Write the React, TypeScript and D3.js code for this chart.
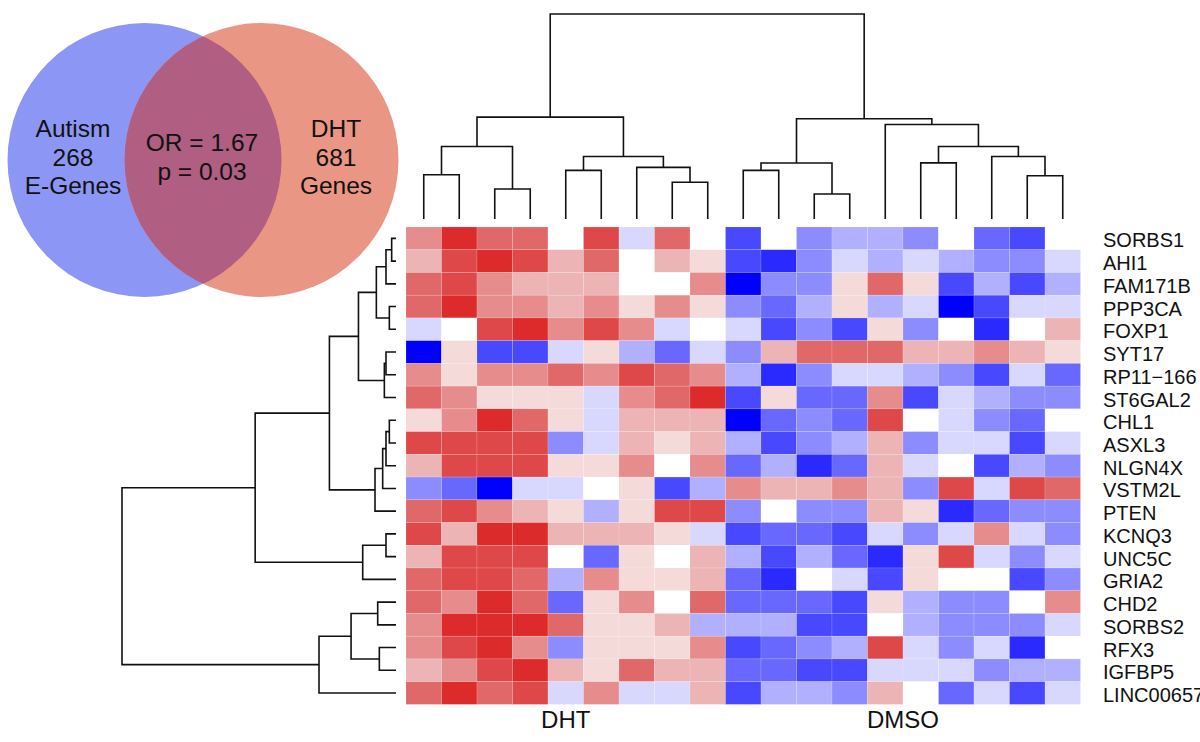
import React from "react";
import * as d3 from "d3";

// ---------- data ----------
const genes = [
  "SORBS1", "AHI1", "FAM171B", "PPP3CA", "FOXP1", "SYT17", "RP11\u2212166",
  "ST6GAL2", "CHL1", "ASXL3", "NLGN4X", "VSTM2L", "PTEN", "KCNQ3", "UNC5C",
  "GRIA2", "CHD2", "SORBS2", "RFX3", "IGFBP5", "LINC00657",
];
const groups = ["DHT", "DMSO"];
const groupSizes = [9, 10];

// expression levels (scaled, -7 = strongest down, 6 = strongest up), DHT samples
const dhtValues: number[][] = [
  [3, 6, 4, 4, 0, 5, -1, 4, 0],
  [2, 5, 6, 5, 2, 4, 0, 2, 1],
  [4, 5, 3, 2, 2, 2, 0, 0, 3],
  [4, 6, 3, 3, 2, 3, 1, 3, 1],
  [-1, 0, 5, 6, 3, 5, 3, -1, 0],
  [-7, 1, -5, -5, -1, 1, -2, -4, -1],
  [3, 1, 3, 3, 4, 3, 5, 4, 3],
  [4, 3, 1, 1, 1, -1, 3, 4, 6],
  [1, 3, 6, 4, 1, -1, 2, 2, 2],
  [5, 5, 5, 5, -3, -1, 2, 1, 2],
  [2, 5, 5, 5, 1, 1, 3, 0, 3],
  [-3, -4, -7, -1, -1, 0, 1, -5, -2],
  [4, 5, 3, 2, 1, -2, 1, 5, 5],
  [5, 2, 6, 6, 2, 2, 2, 1, -1],
  [2, 5, 5, 5, 0, -4, 1, 0, 2],
  [4, 5, 5, 4, -2, 3, 1, 1, 2],
  [4, 3, 6, 4, -4, 1, 3, 0, 4],
  [3, 6, 6, 6, 4, 1, 1, 2, -2],
  [3, 5, 6, 3, -3, 1, 1, 1, 3],
  [2, 3, 5, 6, 2, 1, 4, 2, 2],
  [4, 6, 4, 5, -1, 3, -1, -1, 2],
];
// DMSO samples
const dmsoValues: number[][] = [
  [-5, 0, -3, -2, -2, -3, 0, -4, -5, 0],
  [-5, -6, -3, -1, -2, -1, -2, -3, -3, -1],
  [-7, -3, -3, 1, 4, 1, -5, -2, -5, -2],
  [-3, -4, -2, 1, -2, -1, -7, -5, -1, -1],
  [-1, -5, -3, -5, 1, -3, 0, -6, 0, 2],
  [-3, 2, 4, 4, 4, 2, 2, 3, 2, 1],
  [-2, -6, -3, -1, -1, -2, -3, -5, -1, -4],
  [-5, 1, -4, -4, 3, -5, -1, -2, -3, -3],
  [-7, -4, -3, -4, 5, 0, -1, -3, -4, 0],
  [-2, -5, -3, -2, 2, -3, -1, -1, -5, -1],
  [-4, -2, -6, -4, 2, -1, 0, -5, -2, -3],
  [3, 2, 2, 3, 2, -3, 5, -1, 5, 4],
  [-3, 0, -3, -3, 2, 1, -6, -4, -3, -3],
  [-5, -4, -4, -5, -1, -3, -1, 3, -1, -3],
  [-2, -5, -2, -4, -6, 1, 5, -1, -3, -1],
  [-4, -6, 0, -1, -5, 1, 0, 0, -5, -3],
  [-4, -4, -4, -5, 1, -2, -3, -3, 0, 3],
  [-2, -2, -5, -5, 0, -2, -3, -3, -3, -1],
  [-5, -4, -3, -2, 5, -1, -3, -1, -6, 0],
  [-4, -4, -5, -5, -1, -1, -1, -3, -2, -2],
  [-5, -2, -2, -3, 2, 0, -4, -1, -5, -1],
];

// colour key
const levelValues = [-7, -6, -5, -4, -3, -2, -1, 0, 1, 2, 3, 4, 5, 6];
const levelColors = [
  "#0000FF", "#2A2AFF", "#4848FF", "#6868FF", "#8C8CFF", "#B0B0FF", "#D8D8FF",
  "#FFFFFF", "#F5DADA", "#ECB4B4", "#E68C8C", "#E06868", "#DE4848", "#DD2A2A",
];

// dendrograms: [height, left, right], leaves are indices
type Tree = number | [number, Tree, Tree];
const sampleTree: Tree = [1.0,
  [0.497,
    [0.354, [0.216, 0, 1], [0.146, 2, 3]],
    [0.305, [0.237, 4, 5], [0.252, 6, [0.179, 7, 8]]]],
  [0.489,
    [0.273, [0.237, 9, 10], [0.122, 11, 12]],
    [0.461, 13, [0.354, [0.274, 14, 15], [0.305, 16, [0.211, 17, 18]]]]],
];
const geneTree: Tree = [1.0,
  [0.514,
    [0.243,
      [0.137,
        [0.0717, [0.0365, [0.0158, 0, 1], 2], [0.0243, 3, 4]],
        [0.0425, [0.0365, 5, 6], 7]],
      [0.0766, [0.0486, [0.0365, [0.0243, 8, 9], 10], 11], 12]],
    [0.1215, [0.0365, 13, 14], 15]],
  [0.281, [0.164, [0.0668, 16, 17], [0.0608, 18, 19]], 20],
];

// venn
const vennSets = ["Autism", "DHT"];
const vennCounts = [268, 681];
const vennUnits = ["E-Genes", "Genes"];
const oddsRatio = 1.67;
const pValue = 0.03;

// ---------- layout ----------
const W = 1200;
const H = 742;
const FONT = "'Liberation Sans', Arial, Helvetica, sans-serif";

type Seg = { p1: number; h1: number; p2: number; h2: number; h: number };
function layout(t: Tree, pos: (i: number) => number): Seg[] {
  const segs: Seg[] = [];
  const walk = (n: Tree): { p: number; h: number } => {
    if (typeof n === "number") return { p: pos(n), h: 0 };
    const [h, a, b] = n;
    const A = walk(a);
    const B = walk(b);
    segs.push({ p1: A.p, h1: A.h, p2: B.p, h2: B.h, h });
    return { p: (A.p + B.p) / 2, h };
  };
  walk(t);
  return segs;
}

export default function App() {
  const nCols = groupSizes[0] + groupSizes[1];
  const values = dhtValues.map((r, i) => [...r, ...dmsoValues[i]]);

  const x = d3.scaleBand<number>().domain(d3.range(nCols)).range([406, 1080.5]);
  const y = d3.scaleBand<number>().domain(d3.range(genes.length)).range([227, 704.4]);
  const color = d3.scaleLinear<string>().domain(levelValues).range(levelColors);
  const topH = d3.scaleLinear().domain([0, 1]).range([219, 14]);
  const leftH = d3.scaleLinear().domain([0, 1]).range([396, 122]);

  const cx = (i: number) => (x(i) as number) + x.bandwidth() / 2;
  const cy = (i: number) => (y(i) as number) + y.bandwidth() / 2;

  const topSegs = layout(sampleTree, cx);
  const leftSegs = layout(geneTree, cy);

  const groupStarts = [0, groupSizes[0]];
  const groupCenter = (g: number) =>
    ((x(groupStarts[g]) as number) + (x(groupStarts[g] + groupSizes[g] - 1) as number) + x.bandwidth()) / 2;

  // venn geometry
  const vr = 137;
  const vc = [
    { x: 144.5, y: 160 },
    { x: 261.5, y: 160 },
  ];

  return (
    <svg width={W} height={H} style={{ position: "absolute", left: 0, top: 0, display: "block", background: "#fff" }}>
      <defs>
        <clipPath id="leftCircle">
          <circle cx={vc[0].x} cy={vc[0].y} r={vr} />
        </clipPath>
      </defs>

      {/* Venn */}
      <circle cx={vc[0].x} cy={vc[0].y} r={vr} fill="#8C97F5" />
      <circle cx={vc[1].x} cy={vc[1].y} r={vr} fill="#EA9684" />
      <circle cx={vc[1].x} cy={vc[1].y} r={vr} fill="#B05E82" clipPath="url(#leftCircle)" />
      <g fontFamily={FONT} fontSize={24.5} fill="#111" textAnchor="middle">
        <text x={73} y={136.5}>{vennSets[0]}</text>
        <text x={73} y={165.5}>{vennCounts[0]}</text>
        <text x={73} y={194}>{vennUnits[0]}</text>
        <text x={202} y={150.5}>{`OR = ${oddsRatio.toFixed(2)}`}</text>
        <text x={202} y={180}>{`p = ${pValue.toFixed(2)}`}</text>
        <text x={336} y={136.5}>{vennSets[1]}</text>
        <text x={336} y={165.5}>{vennCounts[1]}</text>
        <text x={336} y={194}>{vennUnits[1]}</text>
      </g>

      {/* heatmap */}
      <g>
        {values.map((row, r) =>
          row.map((v, c) => (
            <rect
              key={`${r}-${c}`}
              x={x(c)}
              y={y(r)}
              width={x.bandwidth()}
              height={y.bandwidth()}
              fill={color(v)}
              stroke="#ffffff"
              strokeOpacity={0.25}
              strokeWidth={0.6}
            />
          ))
        )}
      </g>

      {/* dendrograms */}
      <g fill="none" stroke="#111" strokeWidth={1.6}>
        {topSegs.map((s, i) => (
          <path
            key={`t${i}`}
            d={`M${s.p1},${topH(s.h1)}V${topH(s.h)}H${s.p2}V${topH(s.h2)}`}
          />
        ))}
        {leftSegs.map((s, i) => (
          <path
            key={`l${i}`}
            d={`M${leftH(s.h1)},${s.p1}H${leftH(s.h)}V${s.p2}H${leftH(s.h2)}`}
          />
        ))}
      </g>

      {/* row labels */}
      <g fontFamily={FONT} fontSize={20} fill="#111">
        {genes.map((g, i) => (
          <text key={g} x={1103} y={cy(i) + 9}>{g}</text>
        ))}
      </g>

      {/* column group labels */}
      <g fontFamily={FONT} fontSize={24} fill="#111" textAnchor="middle">
        {groups.map((g, i) => (
          <text key={g} x={groupCenter(i)} y={728}>{g}</text>
        ))}
      </g>
    </svg>
  );
}
